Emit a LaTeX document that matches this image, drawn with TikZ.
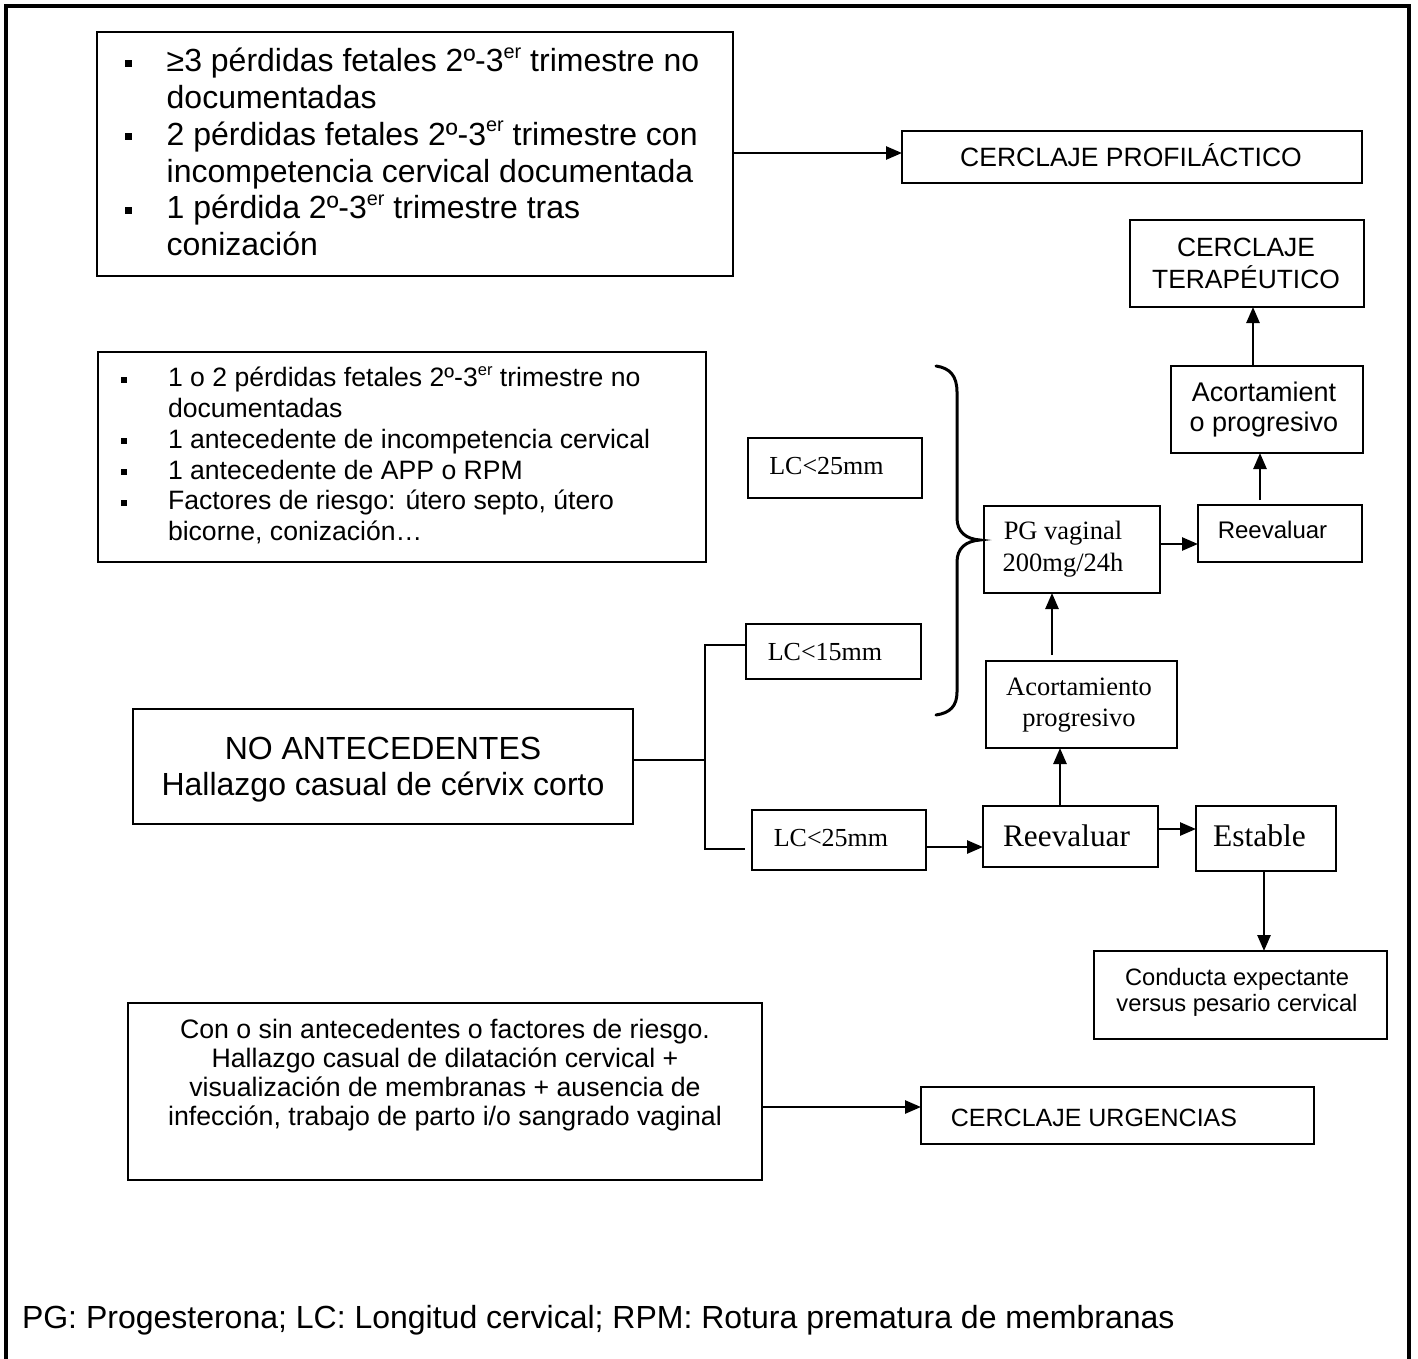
\documentclass[tikz,border=0pt]{standalone}
\usepackage{fontspec}
\setmainfont{Liberation Sans}
\newfontfamily\tnr{Liberation Serif}
\usetikzlibrary{arrows.meta}

% font size / baseline skip in pt
\newcommand{\fsz}[2]{\fontsize{#1pt}{#2pt}\selectfont}
% square list bullet: side, raise
\newcommand{\sqb}[2]{\rule[#2pt]{#1pt}{#1pt}}
% centred lines, one per row
\newcommand{\stack}[1]{\begin{tabular}{@{}c@{}}#1\end{tabular}}
% ordinal superscript, kept out of the line height
\newcommand{\ersup}{\smash{\raisebox{0.42em}{\fontsize{0.62em}{0.7em}\selectfont er}}}

\begin{document}
\begin{tikzpicture}[x=1pt,y=-1pt,
  box/.style={draw,line width=2.2pt,inner sep=0pt,outer sep=0pt},
  lbl/.style={inner sep=0pt,outer sep=0pt},
  conn/.style={line width=2.6pt},
  arr/.style={conn,-{Triangle[length=16pt,width=13pt]}},
  frame/.style={line width=3.8pt},
  brace/.style={line width=3pt,line cap=round}]

\useasboundingbox (0,0) rectangle (1418,1358);

% outer frame, open at the bottom
\draw[frame] (6,1362) -- (6,6) -- (1409,6) -- (1409,1362);

% ---------- boxes ----------
\node[box,minimum width=636pt,minimum height=244pt] (boxA) at (415,154) {};
\node[box,minimum width=460pt,minimum height=52pt] (prof) at (1132,157) {};
\node[box,minimum width=234pt,minimum height=87pt] (ter) at (1247,263.5) {};
\node[box,minimum width=192pt,minimum height=87pt] (acort1) at (1267,409.5) {};
\node[box,minimum width=164pt,minimum height=57pt] (reev1) at (1280,533.5) {};
\node[box,minimum width=176pt,minimum height=87pt] (pg) at (1072,549.5) {};
\node[box,minimum width=174pt,minimum height=60pt] (lc25a) at (835,468) {};
\node[box,minimum width=608pt,minimum height=210pt] (boxB) at (402,457) {};
\node[box,minimum width=175pt,minimum height=55pt] (lc15) at (833.5,651.5) {};
\node[box,minimum width=500pt,minimum height=115pt] (noa) at (383,766.5) {};
\node[box,minimum width=174pt,minimum height=60pt] (lc25b) at (839,840) {};
\node[box,minimum width=175pt,minimum height=61pt] (reev2) at (1070.5,836.5) {};
\node[box,minimum width=140pt,minimum height=65pt] (estable) at (1266,838.5) {};
\node[box,minimum width=293pt,minimum height=88pt] (conducta) at (1240.5,995) {};
\node[box,minimum width=191pt,minimum height=87pt] (acort2) at (1081.5,704.5) {};
\node[box,minimum width=634pt,minimum height=177pt] (boxC) at (445,1091.5) {};
\node[box,minimum width=393pt,minimum height=57pt] (urg) at (1117.5,1115.5) {};

% ---------- texts ----------
\node[lbl,anchor=north west,font=\fsz{32}{36.7}] (listA) at (125,46.3) {%
\begin{tabular}{@{}p{41.7pt}@{}l@{}}
\sqb{7}{5.2} & ≥3 pérdidas fetales 2º-3\ersup{} trimestre no\\
 & documentadas\\
\sqb{7}{5.2} & 2 pérdidas fetales 2º-3\ersup{} trimestre con\\
 & incompetencia cervical documentada\\
\sqb{7}{5.2} & 1 pérdida 2º-3\ersup{} trimestre tras\\
 & conización
\end{tabular}};

\node[lbl,anchor=north west,font=\fsz{26.6}{30.7}] (listB) at (121,365.5) {%
\begin{tabular}{@{}p{47pt}@{}l@{}}
\sqb{6}{4} & 1 o 2 pérdidas fetales 2º-3\ersup{} trimestre no\\
 & documentadas\\
\sqb{6}{4} & 1 antecedente de incompetencia cervical\\
\sqb{6}{4} & 1 antecedente de APP o RPM\\
\sqb{6}{4} & Factores de riesgo: útero septo, útero\\
 & bicorne, conización…
\end{tabular}};

\node[lbl,anchor=base,font=\fsz{26.5}{30}] (proft) at (1131,166.7) {CERCLAJE PROFILÁCTICO};
\node[lbl,anchor=north,font=\fsz{26.4}{29}] (tert) at (1246,236.4) {\stack{CERCLAJE\\TERAPÉUTICO}};
\node[lbl,anchor=north,font=\fsz{27}{30}] (acort1t) at (1264,380.7) {\stack{Acortamient\\o progresivo}};
\node[lbl,anchor=base,font=\fsz{24}{28}] (reev1t) at (1272.5,538.3) {Reevaluar};
\node[lbl,anchor=north,font=\tnr\fsz{26.5}{32}] (pgt) at (1063,516.9) {\stack{PG vaginal\\200mg/24h}};
\node[lbl,anchor=base,font=\tnr\fsz{26}{30}] (lc25at) at (826.5,474) {LC<25mm};
\node[lbl,anchor=base,font=\tnr\fsz{26}{30}] (lc15t) at (825,660) {LC<15mm};
\node[lbl,anchor=base,font=\tnr\fsz{26}{30}] (lc25bt) at (831,846) {LC<25mm};
\node[lbl,anchor=north,font=\fsz{32}{36.4}] (noat) at (383,733.8) {\stack{NO ANTECEDENTES\\Hallazgo casual de cérvix corto}};
\node[lbl,anchor=base,font=\tnr\fsz{31.3}{36}] (reev2t) at (1066.5,846.7) {Reevaluar};
\node[lbl,anchor=base,font=\tnr\fsz{31.5}{36}] (establet) at (1259.5,846.7) {Estable};
\node[lbl,anchor=north,font=\tnr\fsz{26.5}{31}] (acort2t) at (1079,674) {\stack{Acortamiento\\progresivo}};
\node[lbl,anchor=north,font=\fsz{23.7}{26}] (conductat) at (1237,966.8) {\stack{Conducta expectante\\versus pesario cervical}};
\node[lbl,anchor=north,font=\fsz{26.7}{29.1}] (boxCt) at (445,1017.9) {\stack{Con o sin antecedentes o factores de riesgo.\\Hallazgo casual de dilatación cervical +\\visualización de membranas + ausencia de\\infección, trabajo de parto i/o sangrado vaginal}};
\node[lbl,anchor=base,font=\fsz{25}{29}] (urgt) at (1094,1126.7) {CERCLAJE URGENCIAS};
\node[lbl,anchor=base west,font=\fsz{32}{36}] (legend) at (22,1328.3) {PG: Progesterona; LC: Longitud cervical; RPM: Rotura prematura de membranas};

% ---------- connectors ----------
\coordinate (a1) at ([yshift=1pt]boxA.east);
\draw[arr] (a1) -- (a1 -| prof.west);

\coordinate (a2) at ([xshift=-14pt]acort1.north);
\draw[arr] (a2) -- (a2 |- ter.south);

\coordinate (a3) at ([xshift=-20pt,yshift=5pt]reev1.north);
\draw[arr] (a3) -- (a3 |- acort1.south);

\coordinate (a4) at ([yshift=5.5pt]pg.east);
\draw[arr] (a4) -- (a4 -| reev1.west);

\coordinate (a5) at ([xshift=-29.5pt,yshift=6pt]acort2.north);
\draw[arr] (a5) -- (a5 |- pg.south);

\coordinate (a6) at ([xshift=-10.5pt]reev2.north);
\draw[arr] (a6) -- (a6 |- acort2.south);

\coordinate (a7) at ([yshift=-7pt]lc25b.east);
\draw[arr] (a7) -- (a7 -| reev2.west);

\coordinate (a8) at ([yshift=7.5pt]reev2.east);
\draw[arr] (a8) -- (a8 -| estable.west);

\coordinate (a9) at ([xshift=-2pt]estable.south);
\draw[arr] (a9) -- (a9 |- conducta.north);

\coordinate (a10) at ([yshift=-15.5pt]boxC.east);
\draw[arr] (a10) -- (a10 -| urg.west);

% split from "no antecedentes" to the two length boxes
\coordinate (j) at ([xshift=72pt,yshift=6.5pt]noa.east);
\coordinate (jt) at ([yshift=6.5pt]lc15.west);
\coordinate (jb) at ([xshift=-7pt,yshift=-9pt]lc25b.west);
\draw[conn] (noa.east |- j) -- (j);
\draw[conn] (jt) -- (jt -| j) -- (jb -| j) -- (jb);

% curly brace gathering the two length criteria
\draw[brace] (936,366) .. controls (950,368) and (957,376) .. (957,392)
  -- (957,518) .. controls (957,532) and (966,539) .. (980,540)
  .. controls (966,541) and (957,548) .. (957,562)
  -- (957,692) .. controls (957,706) and (950,713) .. (936,715);

\end{tikzpicture}
\end{document}
